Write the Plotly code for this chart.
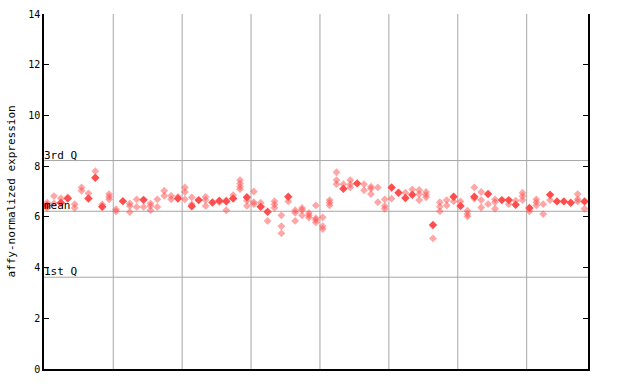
import plotly.graph_objects as go

# per-sample replicate values (light / checkered markers)
open_vals = [
    [6.56, 6.35], [6.82, 6.53], [6.73], [6.77], [6.5, 6.35], [7.16, 7.03], [6.93], [7.8],
    [6.49], [6.9, 6.79, 6.69], [6.3, 6.22], [], [6.53, 6.43, 6.19], [6.69, 6.39], [6.39],
    [6.53, 6.43, 6.26], [6.69, 6.39], [7.03, 6.83], [6.83, 6.69], [6.79], [7.16, 6.98, 6.69],
    [6.77, 6.5], [], [6.79, 6.66, 6.43], [], [6.58], [6.66, 6.26], [6.86],
    [7.45, 7.32, 7.19, 7.09], [6.64, 6.43], [7.0, 6.58, 6.5], [6.56], [5.84],
    [6.62, 6.49, 6.36], [6.06, 5.63, 5.35], [6.61], [6.26, 6.16, 5.84], [6.35, 6.27, 6.06],
    [6.15, 6.06, 5.97], [6.45, 5.95, 5.88, 5.78], [5.98, 5.63, 5.52], [6.66, 6.56, 6.45],
    [7.76, 7.45, 7.29], [7.29], [7.45, 7.28, 7.16], [], [7.29, 7.05], [7.19, 7.11, 6.9],
    [7.16, 6.58], [6.69, 6.43, 6.32], [6.72], [], [6.95], [7.08], [7.06, 6.9, 6.66],
    [6.98, 6.87, 6.77], [5.15], [6.58, 6.4, 6.22], [6.66, 6.45], [6.61], [6.61],
    [6.24, 6.11, 6.01], [7.16, 6.72], [6.98, 6.66, 6.37], [6.5], [6.69, 6.58, 6.32], [],
    [6.5], [6.64], [6.95, 6.82, 6.66], [6.22], [6.69, 6.58, 6.45], [6.5, 6.11], [6.66],
    [], [], [], [6.9, 6.69, 6.61], [6.32],
]
# per-sample overlapping replicate values (solid markers)
solid_vals = [
    [6.45], [], [6.56], [6.72], [], [], [6.72], [7.54], [6.4], [], [], [6.62], [], [],
    [6.67], [], [], [], [], [6.72], [], [6.42], [6.66], [], [6.57], [6.64], [6.61], [6.72],
    [], [6.77], [], [6.4], [6.2], [], [], [6.79], [], [], [], [], [], [], [], [7.11], [],
    [7.32], [], [], [], [], [7.16], [6.95], [6.74], [6.87], [], [], [5.68], [], [], [6.79],
    [6.43], [], [6.79], [], [6.9], [], [6.66], [6.66], [6.48], [], [6.35], [], [], [6.87],
    [6.61], [6.61], [6.56], [], [6.61],
]

q3_value = 8.22
mean_value = 6.22
q1_value = 3.62
y_ticks = [0, 2, 4, 6, 8, 10, 12, 14]
group_bounds = [9.6, 19.6, 29.6, 39.6, 49.6, 59.6, 69.6]

RED = "#ff4d4d"
GRID = "#a6a6a6"
FONT = "DejaVu Sans Mono"

ox, oy, sx, sy = [], [], [], []
for i, vals in enumerate(open_vals):
    for v in vals:
        ox.append(i)
        oy.append(v)
for i, vals in enumerate(solid_vals):
    for v in vals:
        sx.append(i)
        sy.append(v)

fig = go.Figure()
fig.add_trace(go.Scatter(x=ox, y=oy, mode="markers",
                         marker=dict(symbol="diamond", size=6, color=RED, opacity=0.5,
                                     line=dict(width=0)),
                         hoverinfo="y", showlegend=False))
fig.add_trace(go.Scatter(x=sx, y=sy, mode="markers",
                         marker=dict(symbol="diamond", size=6.5, color=RED,
                                     line=dict(width=0)),
                         hoverinfo="y", showlegend=False))
# invisible trace to hold the right axis
fig.add_trace(go.Scatter(x=[0], y=[0], yaxis="y2", mode="markers",
                         marker=dict(opacity=0), hoverinfo="skip", showlegend=False))

for b in group_bounds:
    fig.add_shape(type="line", xref="x", yref="paper", x0=b, x1=b, y0=0, y1=1,
                  line=dict(color=GRID, width=1), layer="below")
for v in (q3_value, mean_value, q1_value):
    fig.add_shape(type="line", xref="paper", yref="y", x0=0, x1=1, y0=v, y1=v,
                  line=dict(color=GRID, width=1), layer="below")

for txt, v in (("3rd Q", q3_value), ("mean", mean_value), ("1st Q", q1_value)):
    fig.add_annotation(text=txt, xref="paper", yref="y", x=0, y=v, xanchor="left",
                       yanchor="bottom", showarrow=False, xshift=-2, yshift=-3,
                       font=dict(family=FONT, size=11, color="#000"))

fig.add_annotation(text="affy-normalized expression", xref="paper", yref="paper",
                   x=0, y=0.5, xshift=-33, textangle=-90, showarrow=False,
                   xanchor="center", yanchor="middle",
                   font=dict(family=FONT, size=11, color="#000"))

fig.update_layout(
    width=640, height=384,
    margin=dict(l=44, r=52, t=14, b=15, autoexpand=False),
    paper_bgcolor="white", plot_bgcolor="white",
    xaxis=dict(range=[-0.45, 78.5], showgrid=False, zeroline=False, showticklabels=False,
               ticks="", showline=True, linecolor="#000", linewidth=1.5, automargin=False),
    yaxis=dict(range=[0, 14], tickvals=y_ticks, ticks="inside", ticklen=5,
               tickcolor="#000", showgrid=False, zeroline=False, showline=True,
               linecolor="#000", linewidth=1.5, automargin=False,
               tickfont=dict(family=FONT, size=10, color="#000")),
    yaxis2=dict(range=[0, 14], tickvals=y_ticks, ticks="inside", ticklen=5,
                tickcolor="#000", overlaying="y", side="right", showgrid=False,
                zeroline=False, showline=True, linecolor="#000", linewidth=1.5,
                showticklabels=False, automargin=False),
)

fig.write_html("out.html", config={"displayModeBar": False},
               post_script="document.body.style.margin='0';"
                           "document.body.style.overflow='hidden';")
